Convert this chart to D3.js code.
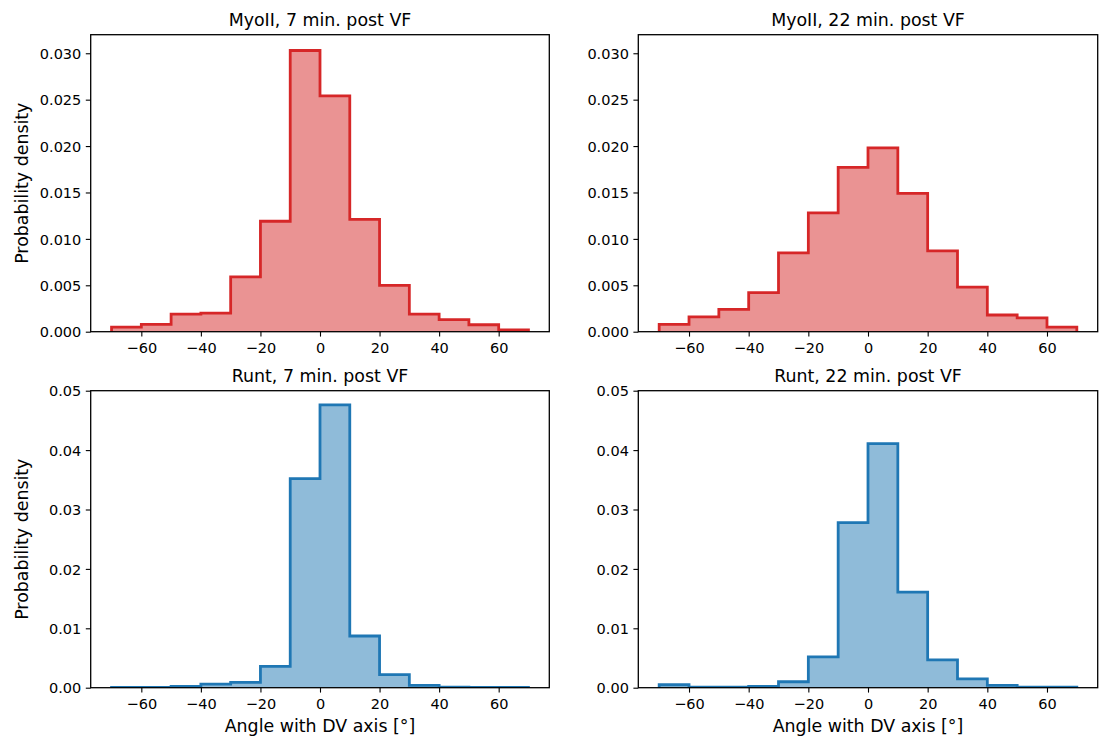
<!DOCTYPE html>
<html>
<head>
<meta charset="utf-8">
<script src="https://cdn.jsdelivr.net/npm/d3@7"></script>
<style>
  html, body { margin: 0; padding: 0; background: #fff; }
  svg { display: block; }
  text { font-family: "DejaVu Sans", sans-serif; fill: #000; }
</style>
</head>
<body>
<svg id="chart" width="1102" height="740"></svg>
<script>
// ---- data ----
const binEdges = [-70, -60, -50, -40, -30, -20, -10, 0, 10, 20, 30, 40, 50, 60, 70];
const myoII7  = [0.0005, 0.0008, 0.0019, 0.0020, 0.0059, 0.0119, 0.0303, 0.0254, 0.0121, 0.0050, 0.0019, 0.0013, 0.00075, 0.0002];
const myoII22 = [0.0008, 0.0016, 0.0024, 0.0042, 0.0085, 0.0128, 0.0177, 0.0198, 0.0149, 0.0087, 0.0048, 0.0018, 0.0015, 0.0005];
const runt7   = [0.00005, 0.00005, 0.0002, 0.0006, 0.0009, 0.0036, 0.0352, 0.0476, 0.0087, 0.0022, 0.0004, 0.0001, 0.00005, 0.00005];
const runt22  = [0.0005, 0.0001, 0.0001, 0.0002, 0.0010, 0.0052, 0.0278, 0.0411, 0.0161, 0.0047, 0.0015, 0.0004, 0.0001, 0.0001];
const xTicks = [-60, -40, -20, 0, 20, 40, 60];
const yTicksTop = [0, 0.005, 0.010, 0.015, 0.020, 0.025, 0.030];
const yTicksBottom = [0, 0.01, 0.02, 0.03, 0.04, 0.05];
const titles = ["MyoII, 7 min. post VF", "MyoII, 22 min. post VF", "Runt, 7 min. post VF", "Runt, 22 min. post VF"];
const yLabel = "Probability density";
const xLabel = "Angle with DV axis [°]";

// ---- layout ----
const svg = d3.select("#chart");
const colsX = [[90.7, 549.3], [638.3, 1097.7]];
const rowsY = [[34.7, 331.7], [390.7, 687.7]];
const red = "#d62728", blue = "#1f77b4";
const tickFont = 14.5, labelFont = 17.4;

const panels = [
  { data: myoII7,  row: 0, col: 0, color: red,  yMax: 0.032, yTicks: yTicksTop, fmt: d3.format(".3f"), title: titles[0] },
  { data: myoII22, row: 0, col: 1, color: red,  yMax: 0.032, yTicks: yTicksTop, fmt: d3.format(".3f"), title: titles[1] },
  { data: runt7,   row: 1, col: 0, color: blue, yMax: 0.05,  yTicks: yTicksBottom, fmt: d3.format(".2f"), title: titles[2] },
  { data: runt22,  row: 1, col: 1, color: blue, yMax: 0.05,  yTicks: yTicksBottom, fmt: d3.format(".2f"), title: titles[3] }
];

const minusFmt = d => (d < 0 ? "\u2212" + Math.abs(d) : String(d));

panels.forEach((p, i) => {
  const [x0, x1] = colsX[p.col];
  const [y0, y1] = rowsY[p.row];
  const x = d3.scaleLinear().domain([-77, 77]).range([x0, x1]);
  const y = d3.scaleLinear().domain([0, p.yMax]).range([y1, y0]);

  const clipId = "clip" + i;
  svg.append("clipPath").attr("id", clipId)
    .append("rect").attr("x", x0).attr("y", y0).attr("width", x1 - x0).attr("height", y1 - y0);

  // histogram step points
  const pts = [[binEdges[0], 0]];
  p.data.forEach((v, k) => {
    pts.push([binEdges[k], v]);
    pts.push([binEdges[k + 1], v]);
  });
  pts.push([binEdges[binEdges.length - 1], 0]);

  const line = d3.line().x(d => x(d[0])).y(d => y(d[1]));
  const g = svg.append("g").attr("clip-path", `url(#${clipId})`);
  g.append("path").attr("d", line(pts) + "Z")
    .attr("fill", p.color).attr("fill-opacity", 0.5)
    .attr("stroke", p.color).attr("stroke-opacity", 0.5).attr("stroke-width", 1);
  g.append("path").attr("d", line(pts))
    .attr("fill", "none").attr("stroke", p.color).attr("stroke-width", 2.8)
    .attr("stroke-linejoin", "miter").attr("stroke-linecap", "butt");

  // axes
  const xAxis = d3.axisBottom(x).tickValues(xTicks).tickFormat(minusFmt).tickSize(4.9).tickPadding(4.5);
  const xg = svg.append("g").attr("transform", `translate(0,${y1})`).call(xAxis);
  const yAxis = d3.axisLeft(y).tickValues(p.yTicks).tickFormat(p.fmt).tickSize(4.9).tickPadding(4.5);
  const yg = svg.append("g").attr("transform", `translate(${x0},0)`).call(yAxis);
  [xg, yg].forEach(ag => {
    ag.select(".domain").remove();
    ag.selectAll(".tick line").attr("stroke", "#000").attr("stroke-width", 1.1);
    ag.selectAll(".tick text").attr("font-size", tickFont).attr("font-family", "DejaVu Sans").attr("fill", "#000");
  });
  xg.selectAll(".tick text").attr("dy", null).attr("y", 21.6 - 0).attr("dominant-baseline", "auto");
  yg.selectAll(".tick text").attr("dy", "0.36em");

  // frame
  svg.append("rect").attr("x", x0).attr("y", y0).attr("width", x1 - x0).attr("height", y1 - y0)
    .attr("fill", "none").attr("stroke", "#000").attr("stroke-width", 1.3);

  // title
  svg.append("text").attr("x", (x0 + x1) / 2).attr("y", y0 - 8.7)
    .attr("text-anchor", "middle").attr("font-size", labelFont).text(p.title);

  if (p.col === 0) {
    svg.append("text")
      .attr("transform", `translate(28,${(y0 + y1) / 2}) rotate(-90)`)
      .attr("text-anchor", "middle").attr("font-size", labelFont).text(yLabel);
  }
  if (p.row === 1) {
    svg.append("text").attr("x", (x0 + x1) / 2).attr("y", 732)
      .attr("text-anchor", "middle").attr("font-size", labelFont).text(xLabel);
  }
});
</script>
</body>
</html>
